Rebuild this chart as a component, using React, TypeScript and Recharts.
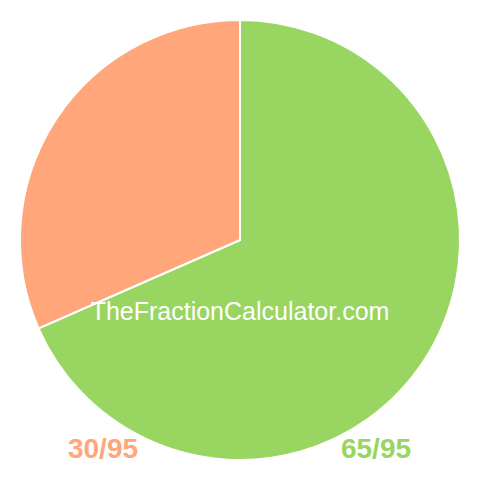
import React from "react";
import { PieChart, Pie, Cell } from "recharts";

const names = ["65/95", "30/95"];
const values = [65, 30];
const colors = ["#98D561", "#FFA67A"];
const watermark = "TheFractionCalculator.com";

const data = names.map((n, i) => ({ name: n, value: values[i] }));

const font = "Liberation Sans, Arial, sans-serif";

export default function App() {
  return (
    <div style={{ position: "absolute", left: 0, top: 0, width: 480, height: 480, background: "#fff" }}>
      <PieChart width={480} height={480} margin={{ top: 0, right: 0, bottom: 0, left: 0 }}>
        <Pie
          data={data}
          dataKey="value"
          nameKey="name"
          cx={240}
          cy={240}
          innerRadius={0}
          outerRadius={220}
          startAngle={90}
          endAngle={-270}
          stroke="#ffffff"
          strokeWidth={2}
          isAnimationActive={false}
        >
          {data.map((d, i) => (
            <Cell key={d.name} fill={colors[i]} />
          ))}
        </Pie>
      </PieChart>
      <svg
        width={480}
        height={480}
        style={{ position: "absolute", left: 0, top: 0, pointerEvents: "none" }}
      >
        <text x={240} y={320} textAnchor="middle" fill="#ffffff" fontFamily={font} fontSize={25}>
          {watermark}
        </text>
        <text x={103} y={458} textAnchor="middle" fill={colors[1]} fontFamily={font} fontWeight="bold" fontSize={28}>
          {names[1]}
        </text>
        <text x={376} y={458} textAnchor="middle" fill={colors[0]} fontFamily={font} fontWeight="bold" fontSize={28}>
          {names[0]}
        </text>
      </svg>
    </div>
  );
}
